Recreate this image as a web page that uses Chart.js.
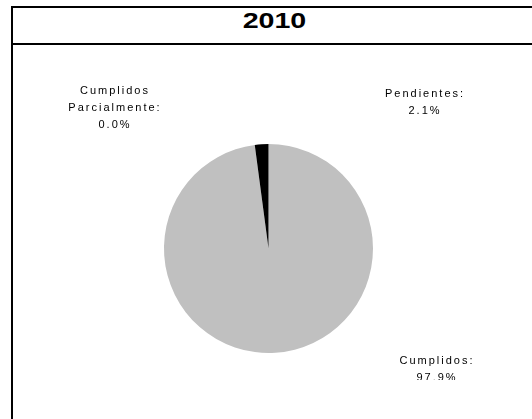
<!DOCTYPE html>
<html>
<head>
<meta charset="utf-8">
<script src="https://cdn.jsdelivr.net/npm/chart.js@4"></script>
<style>
    html, body { margin: 0; background: #fff; width: 532px; height: 419px; overflow: hidden; }
    body { position: relative; }
    .rule { position: absolute; background: #000; }
    #left-rule { left: 11px; top: 6px; width: 2px; height: 413px; }
    #top-rule { left: 11px; top: 6px; width: 521px; height: 2px; }
    #title-rule { left: 11px; top: 43px; width: 521px; height: 2px; }
    #title { position: absolute; left: 13px; top: 8px; width: 522px; height: 35px;
             font: bold 22px "Liberation Sans", Arial, sans-serif;
             text-align: center; line-height: 26px; color: #000; }
    #title span { display: inline-block; transform: scaleX(1.3); }
    #chart-box { position: absolute; left: 13px; top: 45px; width: 519px; height: 335px; }
</style>
</head>
<body>
<div class="rule" id="left-rule"></div>
<div class="rule" id="top-rule"></div>
<div class="rule" id="title-rule"></div>
<div id="title"><span>2010</span></div>
<div id="chart-box"><canvas id="pie-chart" width="519" height="335"></canvas></div>
<script>
// Chart data
var categories = ["Cumplidos", "Cumplidos Parcialmente", "Pendientes"];
var percentages = [97.9, 0.0, 2.1];
var sliceColors = ["#c0c0c0", "#808080", "#000000"];

// Label anchors, relative to the pie centre (layout only)
var labelOffsets = [[167.5, 112.5], [-154.5, -157.5], [155.5, -154.5]];

// Draws the "Name:\nxx.x%" labels next to the pie
var pieLabels = {
    id: "pieLabels",
    afterDraw: function (chart) {
        var ctx = chart.ctx;
        var arc = chart.getDatasetMeta(0).data[0];
        ctx.save();
        ctx.font = '11px "Liberation Sans", Arial, sans-serif';
        ctx.letterSpacing = "2px";
        ctx.fillStyle = "#000";
        ctx.textAlign = "center";
        ctx.textBaseline = "middle";
        categories.forEach(function (name, i) {
            var lines = name.split(" ");
            lines[lines.length - 1] += ":";
            lines.push(percentages[i].toFixed(1) + "%");
            var x = arc.x + labelOffsets[i][0];
            var y = arc.y + labelOffsets[i][1];
            lines.forEach(function (line, j) {
                ctx.fillText(line, x + 1, y + j * 17);
            });
        });
        ctx.restore();
    }
};

var ctx = document.getElementById("pie-chart").getContext("2d");
window.pieChart = new Chart(ctx, {
    type: "pie",
    data: {
        labels: categories,
        datasets: [{
            data: percentages,
            backgroundColor: sliceColors,
            borderWidth: 0
        }]
    },
    options: {
        responsive: false,
        animation: false,
        layout: { padding: { left: 0, right: 8, top: 99, bottom: 27 } },
        plugins: {
            legend: { display: false },
            tooltip: { enabled: false }
        }
    },
    plugins: [pieLabels]
});
</script>
</body>
</html>
